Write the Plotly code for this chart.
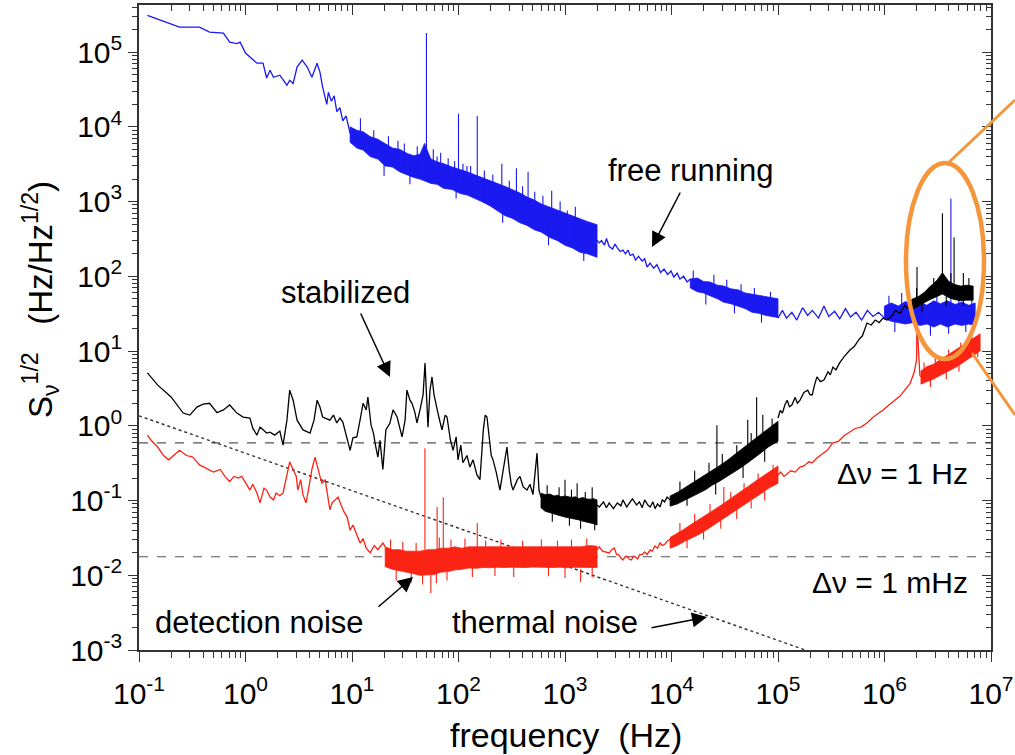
import plotly.graph_objects as go

# ---------------- geometry of the reference frame (pixels) ----------------
W, H = 1015, 755
L, R, T, B = 139, 991, 5, 650


def px_x(p):
    return (p - L) / (R - L)


def px_y(p):
    return (B - p) / (B - T)


X_RANGE = [-1, 7]
Y_RANGE = [-3, 5.63]

# ---------------- data ----------------
x_ticks = [1e-1, 1e0, 1e1, 1e2, 1e3, 1e4, 1e5, 1e6, 1e7]
x_labels = ["10<sup>-1</sup>", "10<sup>0</sup>", "10<sup>1</sup>", "10<sup>2</sup>", "10<sup>3</sup>",
            "10<sup>4</sup>", "10<sup>5</sup>", "10<sup>6</sup>", "10<sup>7</sup>"]
y_ticks = [1e-3, 1e-2, 1e-1, 1e0, 1e1, 1e2, 1e3, 1e4, 1e5]
y_labels = ["10<sup>-3</sup>", "10<sup>-2</sup>", "10<sup>-1</sup>", "10<sup>0</sup>", "10<sup>1</sup>",
            "10<sup>2</sup>", "10<sup>3</sup>", "10<sup>4</sup>", "10<sup>5</sup>"]

# ---- free running (blue): thin line segments (f [Hz], S^1/2 [Hz/Hz^1/2])
blue_seg1 = [(0.12, 3.1e5), (0.24, 2.16e5), (0.37, 2.16e5), (0.46, 1.85e5), (0.62, 1.8e5), (0.71, 1.36e5),
             (0.83, 1.3e5), (0.89, 1.36e5), (1.0, 9.7e4), (1.28, 7.1e4), (1.46, 7.1e4), (1.58, 4.5e4),
             (1.70, 5.7e4), (1.83, 4.6e4), (2.1, 4.9e4), (2.45, 3.6e4), (2.6, 4.2e4), (2.8, 3.8e4),
             (3.05, 6.3e4), (3.4, 7.8e4), (3.8, 6.3e4), (4.2, 4.6e4), (4.7, 7.1e4), (5.0, 5.4e4),
             (5.3, 3.4e4), (5.5, 2.8e4), (5.8, 2.0e4), (6.0, 2.9e4), (6.4, 2.2e4), (6.8, 2.6e4),
             (7.2, 1.6e4), (7.7, 1.8e4), (8.2, 1.2e4), (8.8, 1.4e4), (9.6, 8.2e3)]
blue_seg2 = [(2000, 305), (2100, 280), (2200, 300), (2350, 262), (2450, 320), (2600, 250), (2800, 232),
             (2950, 270), (3100, 240), (3300, 215), (3500, 224), (3700, 200), (3900, 225), (4100, 190),
             (4350, 198), (4600, 165), (4900, 185), (5300, 160), (5600, 172), (5900, 133), (6300, 150),
             (6800, 128), (7300, 143), (7900, 112), (8500, 125), (9200, 106), (9900, 118), (10500, 98),
             (11300, 110), (12000, 92), (13000, 100), (14000, 84), (15000, 92)]
blue_seg3 = [(1.0e5, 27.6), (1.1e5, 35), (1.2e5, 27.6), (1.35e5, 33), (1.5e5, 26), (1.7e5, 38), (1.9e5, 30),
             (2.1e5, 35), (2.4e5, 27.6), (2.7e5, 40), (3.0e5, 29), (3.4e5, 34), (3.8e5, 27), (4.3e5, 37),
             (4.8e5, 28.5), (5.4e5, 33), (6.1e5, 26), (6.9e5, 35), (7.8e5, 29), (8.8e5, 33), (1.0e6, 27.6)]
# dense noise bands: (f, upper edge, lower edge)
blue_band1 = [(9.6, 1.0e4, 6.2e3), (11.1, 9.0e3, 5.2e3), (12.7, 8.6e3, 4.9e3), (14.8, 7.4e3, 4.0e3),
              (17.5, 6.8e3, 3.7e3), (20.5, 6.0e3, 3.0e3), (24, 5.2e3, 2.9e3), (28, 5.0e3, 2.5e3),
              (33, 4.4e3, 2.3e3), (38, 4.1e3, 2.1e3), (43.5, 4.3e3, 2.0e3), (48, 6.0e3, 1.9e3),
              (55, 3.7e3, 1.75e3), (63, 3.4e3, 1.7e3), (73, 3.2e3, 1.5e3), (87, 2.9e3, 1.45e3),
              (104, 2.7e3, 1.28e3), (121, 2.5e3, 1.22e3), (140, 2.3e3, 1.1e3), (165, 2.1e3, 1.0e3),
              (197, 1.95e3, 880), (230, 1.75e3, 760), (272, 1.6e3, 650), (318, 1.45e3, 600),
              (378, 1.3e3, 520), (440, 1.15e3, 480), (515, 1.05e3, 420), (600, 930, 390),
              (723, 840, 330), (850, 760, 300), (1000, 700, 260), (1170, 650, 240), (1380, 590, 210),
              (1620, 540, 200), (2000, 490, 180)]
blue_band2 = [(1.5e4, 92, 70), (1.75e4, 95, 62), (2.0e4, 85, 60), (2.3e4, 84, 55), (2.7e4, 76, 50),
              (3.1e4, 74, 45), (3.6e4, 68, 43), (4.2e4, 66, 40), (4.9e4, 60, 37), (5.7e4, 58, 33),
              (6.6e4, 55, 32), (7.7e4, 54, 30), (1.0e5, 50, 28)]
blue_band3 = [(1.0e6, 40, 27), (1.16e6, 44, 25), (1.35e6, 40, 24), (1.57e6, 46, 23), (1.83e6, 42, 24),
              (2.15e6, 45, 22), (2.5e6, 41, 23), (2.9e6, 47, 21), (3.35e6, 43, 23), (3.9e6, 47, 21),
              (4.6e6, 42, 23), (5.3e6, 45, 22), (6.2e6, 41, 23), (7.1e6, 44, 22)]
# spectral lines: (f, base, peak)
blue_spikes = [(50, 3.0e3, 1.8e5), (63, 2.5e3, 4.0e3), (100, 2.2e3, 1.5e4), (120, 2.0e3, 3.0e3),
               (150, 1.8e3, 1.4e4), (255, 1.4e3, 3.2e3), (350, 1.2e3, 2.8e3), (450, 1.1e3, 2.5e3),
               (750, 800, 1.4e3), (1050, 650, 760), (4.2e6, 40, 1.1e3)]
# short noise excursions sticking out of the bands: (f, from, to)
blue_fuzz = [(12, 5e3, 1.3e4), (16, 4e3, 9e3), (22, 3e3, 7.5e3), (27, 3e3, 6.5e3), (31, 2.5e3, 6e3),
             (41, 2.2e3, 5.5e3), (58, 2e3, 5e3), (68, 1.8e3, 4.5e3), (80, 1.6e3, 3.8e3), (92, 1.5e3, 3.5e3),
             (110, 1.3e3, 3.2e3), (130, 1.2e3, 3.0e3), (175, 1.0e3, 2.6e3), (210, 900, 2.3e3),
             (300, 700, 1.9e3), (400, 520, 1.6e3), (520, 450, 1.35e3), (620, 400, 1.2e3), (900, 320, 1.0e3),
             (1250, 230, 850), (20, 4e3, 2.2e3), (35, 3e3, 1.7e3), (95, 2e3, 1.1e3), (260, 1e3, 520),
             (700, 500, 260), (1500, 350, 160),
             (1.6e4, 80, 120), (2.5e4, 70, 105), (3.3e4, 60, 90), (4.5e4, 50, 78), (6.0e4, 45, 70),
             (8.5e4, 40, 62), (2.1e4, 65, 42), (3.9e4, 50, 32), (7.0e4, 40, 24),
             (1.1e6, 35, 55), (1.45e6, 30, 60), (2.3e6, 30, 58), (3.1e6, 30, 62), (5.0e6, 30, 55),
             (6.6e6, 30, 52), (1.25e6, 30, 18), (2.7e6, 30, 16), (4.0e6, 30, 17), (5.8e6, 30, 18)]

# ---- stabilized (black)
black_seg1 = [(0.12, 5.1), (0.15, 3.5), (0.20, 2.43), (0.26, 1.48), (0.30, 1.39), (0.35, 1.78), (0.40, 1.95),
              (0.46, 2.0), (0.54, 1.5), (0.62, 1.63), (0.71, 1.9), (0.83, 1.48), (0.95, 1.31), (1.1, 1.27),
              (1.17, 0.93), (1.28, 0.75), (1.37, 0.96), (1.46, 0.88), (1.58, 0.80), (1.70, 0.82),
              (1.88, 0.75), (2.1, 0.85), (2.25, 0.55), (2.45, 1.19), (2.6, 3.0), (2.8, 2.2), (3.05, 1.19),
              (3.47, 0.88), (4.04, 0.80), (4.4, 1.19), (4.7, 2.2), (5.0, 1.78), (5.3, 1.31), (6.2, 1.19),
              (6.7, 1.39), (7.2, 1.09), (7.7, 1.27), (8.2, 1.12), (9.0, 0.64), (9.6, 0.47), (10.2, 0.69),
              (11.1, 0.71), (11.9, 1.19), (12.7, 2.0), (13.6, 1.63), (14.1, 2.43), (15.1, 1.02),
              (15.9, 0.80), (16.6, 0.55), (17.5, 0.38), (18.3, 0.64), (19.5, 0.26), (20.8, 0.88),
              (22.7, 1.09), (24.3, 1.63), (26.5, 1.31), (28.4, 0.88), (29.5, 0.71), (31.5, 1.19),
              (32.8, 3.0), (35, 2.2), (36.6, 2.0), (39, 1.5), (40.7, 1.09), (43.5, 1.63), (46.5, 2.6),
              (48.5, 6.9), (50.7, 2.2), (51.7, 0.96), (54, 3.0), (56.4, 4.5), (58.9, 2.6), (62.8, 1.63),
              (65.7, 1.27), (70, 0.88), (75, 1.39), (78, 1.31), (84, 0.64), (89, 0.47), (95, 0.71),
              (99, 0.35), (105, 0.55), (110, 0.32), (120, 0.40), (128, 0.28), (137, 0.35), (149, 0.22),
              (159, 0.19), (171, 0.88), (178, 1.39), (185, 1.31), (194, 0.64), (203, 0.40), (211, 0.35),
              (226, 0.24), (245, 0.138), (262, 0.26), (275, 0.40), (285, 0.52), (299, 0.26), (313, 0.165),
              (325, 0.138), (357, 0.19), (378, 0.21), (405, 0.152), (440, 0.138), (469, 0.165),
              (500, 0.12), (546, 0.43), (570, 0.138), (595, 0.111)]
black_seg2 = [(2000, 0.087), (2100, 0.082), (2300, 0.096), (2450, 0.080), (2600, 0.093), (2850, 0.078),
              (3100, 0.093), (3350, 0.085), (3500, 0.102), (3800, 0.082), (4100, 0.096), (4300, 0.105),
              (4700, 0.087), (5000, 0.096), (5300, 0.080), (5600, 0.102), (6000, 0.087), (6300, 0.082),
              (6700, 0.096), (7000, 0.078), (7400, 0.090), (7800, 0.082), (8200, 0.102), (8600, 0.096),
              (9100, 0.111), (9700, 0.102)]
black_seg3 = [(1.0e5, 1.27), (1.05e5, 1.6), (1.1e5, 1.48), (1.16e5, 1.9), (1.22e5, 2.2), (1.28e5, 1.8),
              (1.35e5, 1.9), (1.45e5, 2.4), (1.52e5, 2.0), (1.61e5, 2.2), (1.75e5, 2.8), (1.9e5, 3.0),
              (2.0e5, 2.6), (2.1e5, 2.6), (2.2e5, 3.5), (2.32e5, 4.5), (2.5e5, 3.9), (2.7e5, 4.1),
              (2.95e5, 5.3), (3.1e5, 4.8), (3.28e5, 6.1), (3.5e5, 5.6), (3.8e5, 7.0), (4.2e5, 8.5),
              (4.74e5, 10.3), (5.2e5, 11.5), (5.7e5, 14), (6.2e5, 16), (6.85e5, 23.7), (7.5e5, 22.3),
              (8.2e5, 26), (8.9e5, 24), (9.7e5, 27.6), (1.05e6, 26), (1.15e6, 28.5), (1.27e6, 35),
              (1.4e6, 32), (1.55e6, 41), (1.65e6, 37), (1.8e6, 42)]
black_band1 = [(595, 0.125, 0.080), (650, 0.120, 0.072), (723, 0.122, 0.068), (790, 0.115, 0.066),
               (850, 0.118, 0.064), (920, 0.112, 0.062), (1000, 0.115, 0.060), (1080, 0.112, 0.059),
               (1150, 0.110, 0.057), (1250, 0.112, 0.056), (1350, 0.106, 0.055), (1470, 0.110, 0.053),
               (1600, 0.105, 0.052), (1720, 0.104, 0.050), (1850, 0.106, 0.049), (2000, 0.102, 0.047)]
black_band2 = [(9.7e3, 0.115, 0.084), (1.13e4, 0.128, 0.090), (1.3e4, 0.145, 0.100), (1.5e4, 0.165, 0.110),
               (1.8e4, 0.19, 0.125), (2.1e4, 0.22, 0.14), (2.4e4, 0.25, 0.16), (2.8e4, 0.29, 0.18),
               (3.3e4, 0.34, 0.205), (3.8e4, 0.40, 0.235), (4.4e4, 0.47, 0.27), (5.2e4, 0.56, 0.32),
               (6.0e4, 0.66, 0.37), (7.0e4, 0.78, 0.44), (8.1e4, 0.92, 0.52), (1.0e5, 1.15, 0.62)]
black_band3 = [(1.8e6, 49, 36), (2.1e6, 54, 40), (2.4e6, 62, 45), (2.7e6, 74, 49), (3.1e6, 88, 53),
               (3.5e6, 112, 58), (4.0e6, 86, 52), (4.5e6, 78, 49), (5.2e6, 74, 47), (5.9e6, 76, 48),
               (6.8e6, 74, 48)]
black_spikes = [(1000, 0.1, 0.19), (1300, 0.1, 0.17), (1800, 0.1, 0.15), (2.67e4, 0.28, 1.02),
                (5.2e4, 0.45, 1.2), (6.3e4, 0.5, 2.4), (7.2e4, 0.6, 1.4), (2.02e6, 45, 133),
                (3.5e6, 100, 700), (4.5e6, 70, 330), (5.5e6, 70, 111)]
black_fuzz = [(680, 0.1, 0.16), (880, 0.09, 0.15), (1150, 0.08, 0.14), (1550, 0.08, 0.13),
              (760, 0.08, 0.052), (1100, 0.07, 0.046), (1400, 0.07, 0.042), (1900, 0.06, 0.040),
              (1.2e4, 0.12, 0.18), (1.65e4, 0.15, 0.25), (2.25e4, 0.18, 0.32), (3.0e4, 0.22, 0.42),
              (4.1e4, 0.3, 0.55), (5.6e4, 0.4, 0.8), (8.8e4, 0.6, 1.25), (1.4e4, 0.12, 0.085),
              (2.6e4, 0.18, 0.12), (4.7e4, 0.3, 0.2), (7.5e4, 0.5, 0.33),
              (2.0e6, 40, 70), (2.9e6, 60, 95), (4.2e6, 60, 110), (6.2e6, 55, 95), (2.25e6, 45, 33),
              (3.8e6, 55, 40), (5.5e6, 55, 40)]

# ---- detection noise (red)
red_seg1 = [(0.12, 0.75), (0.13, 0.64), (0.15, 0.52), (0.17, 0.40), (0.19, 0.35), (0.21, 0.40), (0.24, 0.47),
            (0.28, 0.40), (0.32, 0.38), (0.37, 0.30), (0.44, 0.26), (0.50, 0.24), (0.58, 0.26), (0.64, 0.21),
            (0.71, 0.18), (0.78, 0.21), (0.85, 0.20), (0.92, 0.21), (1.01, 0.17), (1.10, 0.138),
            (1.17, 0.165), (1.28, 0.126), (1.37, 0.093), (1.49, 0.146), (1.58, 0.138), (1.70, 0.111),
            (1.83, 0.102), (1.94, 0.126), (2.1, 0.116), (2.25, 0.126), (2.45, 0.22), (2.6, 0.33),
            (2.8, 0.26), (3.0, 0.21), (3.1, 0.138), (3.3, 0.19), (3.47, 0.119), (3.7, 0.093), (3.9, 0.138),
            (4.2, 0.26), (4.5, 0.38), (4.7, 0.30), (4.9, 0.22), (5.2, 0.17), (5.6, 0.19), (5.9, 0.119),
            (6.2, 0.075), (6.5, 0.093), (6.9, 0.102), (7.4, 0.111), (7.9, 0.087), (8.4, 0.071), (9.0, 0.060),
            (9.6, 0.040), (10.2, 0.047), (11.1, 0.034), (11.9, 0.027), (12.7, 0.031), (13.6, 0.023),
            (14.8, 0.0199), (16.2, 0.025), (17.5, 0.022), (19.5, 0.027), (20.5, 0.024)]
red_seg2 = [(2000, 0.022), (2100, 0.024), (2250, 0.021), (2400, 0.0205), (2600, 0.0199), (2750, 0.022),
            (2900, 0.0231), (3050, 0.019), (3200, 0.0187), (3350, 0.017), (3500, 0.016), (3650, 0.0175),
            (3800, 0.0181), (4000, 0.0165), (4200, 0.016), (4400, 0.018), (4600, 0.0175), (4800, 0.0165),
            (5000, 0.0187), (5300, 0.019), (5600, 0.0205), (5900, 0.019), (6300, 0.0218), (6600, 0.021),
            (7000, 0.0246), (7400, 0.023), (7800, 0.027), (8200, 0.025), (8700, 0.0262), (9200, 0.029),
            (9700, 0.030)]
red_seg3 = [(1.0e5, 0.22), (1.06e5, 0.24), (1.14e5, 0.21), (1.22e5, 0.23), (1.32e5, 0.25), (1.45e5, 0.24),
            (1.61e5, 0.28), (1.75e5, 0.29), (1.95e5, 0.33), (2.1e5, 0.32), (2.32e5, 0.37), (2.6e5, 0.42),
            (2.9e5, 0.47), (3.28e5, 0.59), (3.7e5, 0.62), (4.2e5, 0.74), (4.74e5, 0.82), (5.3e5, 0.92),
            (6.0e5, 0.96), (6.85e5, 1.09), (7.8e5, 1.3), (8.7e5, 1.45), (9.7e5, 1.63), (1.1e6, 1.9),
            (1.25e6, 2.2), (1.4e6, 2.5), (1.55e6, 3.0), (1.74e6, 3.7), (1.9e6, 5.2), (2.0e6, 7.6),
            (2.02e6, 23.7), (2.07e6, 10.3), (2.15e6, 4.7), (2.2e6, 4.5)]
red_band1 = [(20.5, 0.024, 0.013), (24, 0.022, 0.012), (28, 0.022, 0.0115), (32, 0.021, 0.011),
             (38, 0.021, 0.0105), (43.5, 0.021, 0.010), (51, 0.022, 0.010), (59, 0.022, 0.0102),
             (68, 0.023, 0.011), (80, 0.023, 0.0112), (92, 0.024, 0.0118), (107, 0.023, 0.012),
             (125, 0.024, 0.0125), (146, 0.024, 0.0124), (170, 0.024, 0.0127), (197, 0.024, 0.0126),
             (230, 0.024, 0.0128), (268, 0.0245, 0.0127), (310, 0.024, 0.0128), (366, 0.0245, 0.0128),
             (425, 0.024, 0.0127), (500, 0.0245, 0.0129), (570, 0.024, 0.0128), (660, 0.0245, 0.0128),
             (770, 0.024, 0.0127), (900, 0.0245, 0.0128), (1050, 0.024, 0.0126), (1230, 0.0245, 0.0128),
             (1430, 0.024, 0.0126), (1670, 0.025, 0.0128), (2000, 0.0245, 0.0127)]
red_band2 = [(9.7e3, 0.032, 0.023), (1.13e4, 0.036, 0.025), (1.3e4, 0.041, 0.028), (1.5e4, 0.047, 0.031),
             (1.8e4, 0.055, 0.035), (2.1e4, 0.063, 0.040), (2.4e4, 0.072, 0.045), (2.8e4, 0.083, 0.052),
             (3.3e4, 0.097, 0.060), (3.8e4, 0.112, 0.069), (4.4e4, 0.13, 0.080), (5.2e4, 0.153, 0.094),
             (6.0e4, 0.177, 0.108), (7.0e4, 0.205, 0.125), (8.1e4, 0.24, 0.145), (1.0e5, 0.29, 0.17)]
red_band3 = [(2.2e6, 5.4, 3.6), (2.5e6, 6.2, 3.9), (2.85e6, 6.6, 4.2), (3.2e6, 7.4, 4.5), (3.6e6, 8.2, 5.0),
             (4.2e6, 9.4, 5.6), (4.8e6, 10.6, 6.2), (5.5e6, 12.0, 7.0), (6.2e6, 13.4, 7.9),
             (7.1e6, 15.3, 9.0), (7.9e6, 17.0, 10.0)]
red_spikes = [(48.4, 0.022, 0.50), (55, 0.012, 0.0058), (63, 0.022, 0.082), (72, 0.022, 0.111),
              (150, 0.022, 0.050), (1400, 0.012, 0.0081), (3.1e4, 0.09, 0.152)]
red_fuzz = [(23, 0.02, 0.03), (30, 0.02, 0.028), (40, 0.02, 0.027), (66, 0.022, 0.032), (85, 0.022, 0.03),
            (115, 0.022, 0.031), (180, 0.022, 0.029), (250, 0.022, 0.03), (400, 0.022, 0.029),
            (600, 0.022, 0.03), (850, 0.022, 0.029), (1150, 0.022, 0.03), (1600, 0.022, 0.031),
            (26, 0.013, 0.0085), (36, 0.012, 0.008), (46, 0.012, 0.0075), (62, 0.012, 0.0078),
            (78, 0.013, 0.0085), (135, 0.013, 0.0095), (220, 0.013, 0.0098), (330, 0.013, 0.0095),
            (700, 0.013, 0.0097), (1000, 0.013, 0.0092), (1800, 0.013, 0.0093),
            (1.2e4, 0.035, 0.05), (1.65e4, 0.045, 0.066), (2.3e4, 0.06, 0.09), (3.6e4, 0.09, 0.13),
            (4.8e4, 0.12, 0.17), (6.5e4, 0.16, 0.23), (9.0e4, 0.2, 0.3), (1.4e4, 0.032, 0.023),
            (2.0e4, 0.04, 0.03), (2.9e4, 0.055, 0.042), (4.1e4, 0.075, 0.056), (5.6e4, 0.1, 0.078),
            (7.5e4, 0.13, 0.1),
            (2.35e6, 4.5, 7.0), (3.0e6, 5, 8.2), (4.0e6, 6, 10.5), (5.2e6, 8, 13), (6.6e6, 10, 16.5),
            (2.7e6, 4.5, 3.3), (3.8e6, 5.5, 4.2), (5.0e6, 7, 5.3), (7.5e6, 11, 8.3)]

# reference levels and thermal noise line
linewidth_1hz = 0.59
linewidth_1mhz = 0.0177
thermal_f = [0.1, 1.8e5]
thermal_v = [1.36, 1.0e-3]

BLUE = "rgb(25,25,240)"
BLACK = "rgb(0,0,0)"
RED = "rgb(250,35,20)"
ORANGE = "rgb(246,150,60)"
FONT = "Liberation Sans, Arial, sans-serif"


# ---------------- helpers to build traces ----------------
def segs_xy(segs):
    xs, ys = [], []
    for s in segs:
        xs += [p[0] for p in s] + [None]
        ys += [p[1] for p in s] + [None]
    return xs, ys


def bands_xy(bands):
    xs, ys = [], []
    for b in bands:
        f = [p[0] for p in b]
        hi = [p[1] for p in b]
        lo = [p[2] for p in b]
        xs += f + f[::-1] + [f[0], None]
        ys += hi + lo[::-1] + [hi[0], None]
    return xs, ys


def spikes_xy(spk):
    xs, ys = [], []
    for f, b, p in spk:
        xs += [f, f, None]
        ys += [b, p, None]
    return xs, ys


fig = go.Figure()

# reference lines
for lvl in (linewidth_1hz, linewidth_1mhz):
    fig.add_trace(go.Scatter(x=[x_ticks[0], x_ticks[-1]], y=[lvl, lvl], mode="lines",
                             line=dict(color="#555", width=1.1, dash="dash"), hoverinfo="skip"))
fig.add_trace(go.Scatter(x=thermal_f, y=thermal_v, mode="lines",
                         line=dict(color="#333", width=1.4, dash="dot"), hoverinfo="skip"))

for color, segs, bands, spikes, fuzz in [
    (BLUE, [blue_seg1, blue_seg2, blue_seg3], [blue_band1, blue_band2, blue_band3], blue_spikes, blue_fuzz),
    (BLACK, [black_seg1, black_seg2, black_seg3], [black_band1, black_band2, black_band3], black_spikes,
     black_fuzz),
    (RED, [red_seg1, red_seg2, red_seg3], [red_band1, red_band2, red_band3], red_spikes, red_fuzz),
]:
    bx, by = bands_xy(bands)
    fig.add_trace(go.Scatter(x=bx, y=by, mode="lines", fill="toself", fillcolor=color,
                             line=dict(color=color, width=0.8), hoverinfo="skip"))
    lx, ly = segs_xy(segs)
    fig.add_trace(go.Scatter(x=lx, y=ly, mode="lines", line=dict(color=color, width=1.3),
                             hoverinfo="skip"))
    sx, sy = spikes_xy(spikes + fuzz)
    fig.add_trace(go.Scatter(x=sx, y=sy, mode="lines", line=dict(color=color, width=1.1),
                             hoverinfo="skip"))

# dummy trace for the mirrored (top/right) axes
fig.add_trace(go.Scatter(x=[1], y=[1], xaxis="x2", yaxis="y2", mode="markers",
                         marker=dict(opacity=0), hoverinfo="skip"))

minor_x = [m * 10 ** e for e in range(-1, 7) for m in range(2, 10)]
minor_y = [m * 10 ** e for e in range(-3, 6) for m in range(2, 10) if m * 10 ** e < 10 ** Y_RANGE[1]]

tickfont = dict(family=FONT, size=30, color="black")
axcol = "#333"
common = dict(type="log", showgrid=False, zeroline=False, showline=True, linecolor=axcol, linewidth=1.6,
              tickcolor=axcol, tickwidth=1.4)

fig.update_layout(
    width=W, height=H, margin=dict(l=L, r=W - R, t=T, b=H - B, pad=0, autoexpand=False),
    paper_bgcolor="white", plot_bgcolor="white", showlegend=False,
    xaxis=dict(**common, range=X_RANGE, ticks="outside", ticklen=10, tickmode="array",
               tickvals=x_ticks, ticktext=x_labels, tickfont=tickfont, ticklabelstandoff=6,
               minor=dict(tickmode="array", tickvals=minor_x, ticks="outside", ticklen=6,
                          tickcolor=axcol, tickwidth=1.2)),
    yaxis=dict(**common, range=Y_RANGE, ticks="outside", ticklen=9, tickmode="array",
               tickvals=y_ticks, ticktext=y_labels, tickfont=tickfont,
               minor=dict(tickmode="array", tickvals=minor_y, ticks="outside", ticklen=5,
                          tickcolor=axcol, tickwidth=1.2)),
    xaxis2=dict(**common, range=X_RANGE, overlaying="x", side="top", anchor="y2", ticks="inside",
                ticklen=10, tickmode="array", tickvals=x_ticks, showticklabels=False,
                minor=dict(tickmode="array", tickvals=minor_x, ticks="inside", ticklen=6,
                           tickcolor=axcol, tickwidth=1.2)),
    yaxis2=dict(**common, range=Y_RANGE, overlaying="y", side="right", anchor="x2", ticks="inside",
                ticklen=9, tickmode="array", tickvals=y_ticks, showticklabels=False,
                minor=dict(tickmode="array", tickvals=minor_y, ticks="inside", ticklen=5,
                           tickcolor=axcol, tickwidth=1.2)),
)

ann_font = dict(family=FONT, size=31, color="black")
dn_font = dict(family=FONT, size=30, color="black")
annotations = [
    # axis titles
    dict(x=px_x(566), y=px_y(735), text="frequency\u00a0\u00a0(Hz)", font=dict(family=FONT, size=34, color="black")),
    dict(x=px_x(40), y=px_y(300),
         text="S<sub>\u03bd</sub><sup>1/2</sup>\u00a0\u00a0\u00a0(Hz/Hz<sup>1/2</sup>)",
         textangle=-90, font=dict(family=FONT, size=33, color="black")),
    # labels
    dict(x=px_x(690), y=px_y(171), text="free running", font=ann_font),
    dict(x=px_x(345), y=px_y(292), text="stabilized", font=ann_font),
    dict(x=px_x(259), y=px_y(622), text="detection noise", font=ann_font),
    dict(x=px_x(545), y=px_y(622), text="thermal noise", font=ann_font),
    dict(x=px_x(970), y=px_y(473), text="\u0394\u03bd = 1 Hz", xanchor="right", font=dn_font),
    dict(x=px_x(970), y=px_y(582), text="\u0394\u03bd = 1 mHz", xanchor="right", font=dn_font),
]
for a in annotations:
    a.setdefault("xanchor", "center")
    a.update(xref="paper", yref="paper", yanchor="middle", showarrow=False)

arrows = [  # head (px), tail offset (px)
    (652, 247, 29, -56),
    (390, 377, -30, -65),
    (413, 577, -36, 31),
    (707, 617, -57, 11),
]
for hx, hy, ax, ay in arrows:
    annotations.append(dict(x=px_x(hx), y=px_y(hy), xref="paper", yref="paper", text="", showarrow=True,
                            ax=ax, ay=ay, arrowhead=2, arrowsize=2, arrowwidth=1.5, arrowcolor="black",
                            standoff=0))
fig.update_layout(annotations=annotations)

# orange highlight ellipse and pointer lines
fig.add_shape(type="circle", xref="paper", yref="paper", x0=px_x(906), x1=px_x(984), y0=px_y(359), y1=px_y(163),
              line=dict(color=ORANGE, width=4.5))
fig.add_shape(type="line", xref="paper", yref="paper", x0=px_x(946), y0=px_y(165), x1=px_x(1015), y1=px_y(100),
              line=dict(color=ORANGE, width=3))
fig.add_shape(type="line", xref="paper", yref="paper", x0=px_x(972), y0=px_y(353), x1=px_x(1015), y1=px_y(415),
              line=dict(color=ORANGE, width=3))

# the page's default 8px body margin would shift the figure; remove it
fig.write_html("out.html", config={"displayModeBar": False},
               post_script="document.body.style.margin='0px';")
